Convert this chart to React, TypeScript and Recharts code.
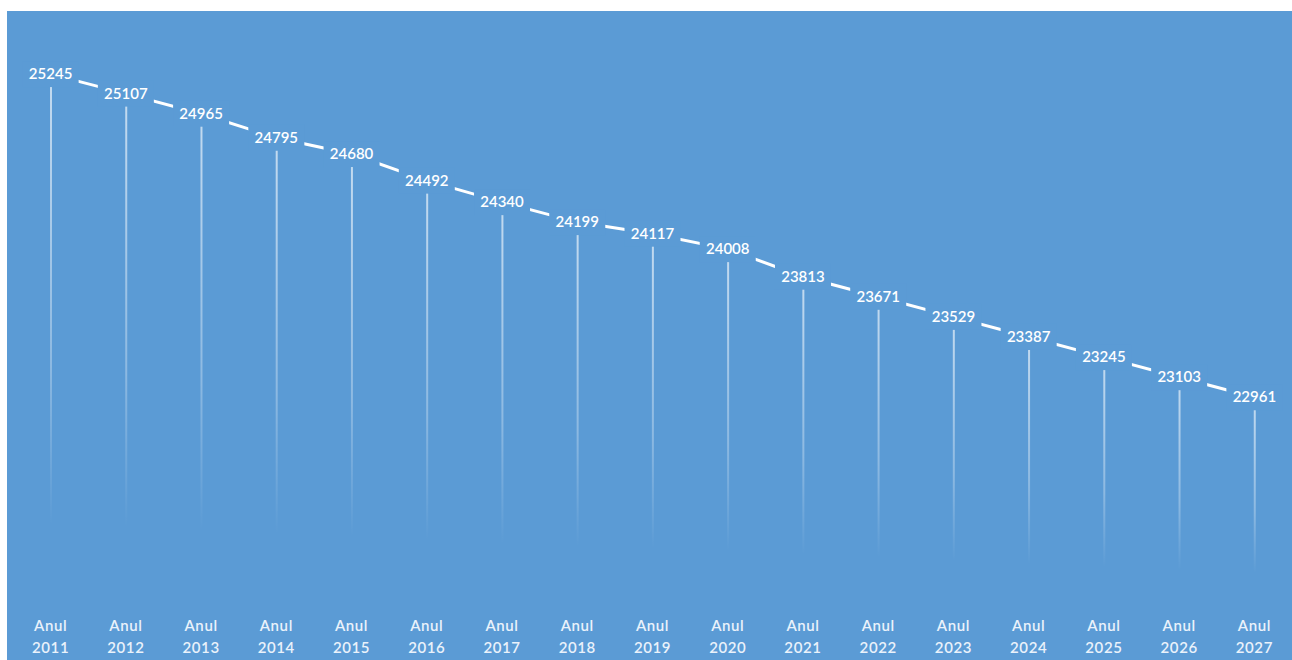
import { ComposedChart, Bar, Line, XAxis, YAxis, LabelList } from "recharts";

const years = ["2011", "2012", "2013", "2014", "2015", "2016", "2017", "2018", "2019", "2020", "2021", "2022", "2023", "2024", "2025", "2026", "2027"];
const population = [25245, 25107, 24965, 24795, 24680, 24492, 24340, 24199, 24117, 24008, 23813, 23671, 23529, 23387, 23245, 23103, 22961];
const yDomain = [21500, 25500];

const BG = "#5b9bd5";
const FONT = "Lato, 'Open Sans', sans-serif";

const data = years.map((year, i) => ({ year, value: population[i] }));

function YearTick(props: any) {
  const { x, y, payload } = props;
  return (
    <text x={x} y={y} textAnchor="middle" fill="#eaf2fb" fontSize={15} fontFamily={FONT} fontWeight={600} letterSpacing={0.6}>
      <tspan x={x} dy={19}>Anul</tspan>
      <tspan x={x} dy={22}>{payload.value}</tspan>
    </text>
  );
}

// the label box masks the line, so each link shows as a short dash between values
function ValueLabel(props: any) {
  const { x, y, value } = props;
  return (
    <g>
      <rect x={x - 28} y={y - 13} width={56} height={26} fill={BG} />
      <text x={x} y={y} dy={5} textAnchor="middle" fill="#ffffff" fontSize={15} fontFamily={FONT} fontWeight={600}>
        {value}
      </text>
    </g>
  );
}

export default function App() {
  return (
    <div style={{ position: "absolute", left: 7, top: 11, width: 1285, height: 649, background: BG }}>
      <ComposedChart width={1285} height={649} data={data} margin={{ top: 27, right: 0, bottom: 0, left: 6 }}>
        <defs>
          <linearGradient id="dropFade" x1="0" y1="0" x2="0" y2="1">
            <stop offset="0%" stopColor="#ffffff" stopOpacity={0.65} />
            <stop offset="55%" stopColor="#ffffff" stopOpacity={0.3} />
            <stop offset="85%" stopColor="#ffffff" stopOpacity={0} />
          </linearGradient>
        </defs>
        <XAxis dataKey="year" axisLine={false} tickLine={false} interval={0} height={56} tick={<YearTick />} />
        <YAxis hide domain={yDomain} />
        <Bar dataKey="value" barSize={2} fill="url(#dropFade)" isAnimationActive={false} />
        <Line
          dataKey="value"
          stroke="#ffffff"
          strokeWidth={3}
          dot={false}
          activeDot={false}
          isAnimationActive={false}
        >
          <LabelList dataKey="value" content={<ValueLabel />} />
        </Line>
      </ComposedChart>
    </div>
  );
}
